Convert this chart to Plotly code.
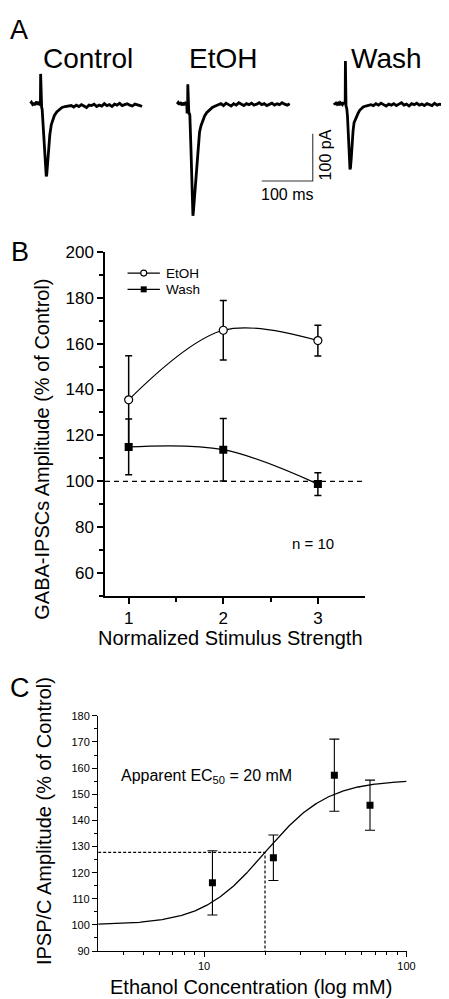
import numpy as np
import plotly.graph_objects as go

W, H = 449, 999
FONT = "Arial, 'Liberation Sans', sans-serif"

# ---------------- Panel A : example IPSC traces (time in ms, current in pA) ----------------
CONTROL_T = [-20, -18, -16, -14, -12, -10, -8, -6, -4, -2, -1, -0.4, 0, 0.6, 1.3, 2, 3, 5, 7, 9, 11,
             12, 13.5, 16, 18, 21, 24, 27, 32, 37, 42, 48, 54,
             60, 65, 70, 75, 80, 85, 90, 95, 100, 105, 110, 115, 120, 125, 130, 135, 140, 145,
             150, 155, 160, 165, 170, 175, 180, 185, 190, 195, 199]
CONTROL_I = [0, 3, -1, 2, -3, 1, 4, -2, 1, -1, 0, 2, 63, 20, -6, -8, -12, -45, -85, -125, -154,
             -150, -128, -90, -66, -44, -32, -25, -17, -12, -8, -6, -5,
             -4, -7, -3, -6, -2, -5, -8, -3, -4, -1, -6, -3, -5, 0, -4, -2, -6, -1, -3, 1,
             -4, -2, 0, -3, -5, -1, -2, -4, -6]

ETOH_T = [-21, -19, -17, -15, -13, -11, -9, -7, -5, -3, -2, -1.5, -1, -0.5, 0, 0.6, 1.2, 2, 3, 4, 6, 8, 10,
          11, 13, 15, 17, 19, 21, 23, 26, 29, 33, 37, 42, 48, 54,
          60, 65, 70, 75, 80, 85, 90, 95, 100, 105, 110, 115, 120, 125, 130, 135, 140, 145,
          150, 155, 160, 165, 170, 175, 180, 185, 190, 195, 200]
ETOH_I = [-1, 2, -2, 3, 0, -3, 2, -1, 1, -2, 3, -20, 2, -18, 41, -20, 0, -22, -20, -25, -90, -165, -237,
          -228, -200, -170, -135, -102, -75, -60, -46, -36, -26, -19, -13, -8, -5,
          -3, 0, -4, 1, -2, -5, 0, -3, 2, -1, -4, 0, -2, 1, -3, -1, 2, -2, 0,
          -4, -1, 1, -3, 0, -2, 2, -1, -3, 0]

WASH_T = [-22, -20, -18, -16, -14, -12, -10, -8, -6, -4, -2, -1, -0.4, 0, 0.5, 1.2, 2.7, 4, 6, 8, 9, 10,
          11.5, 13, 15, 17, 19, 22, 25, 28, 31, 35, 40, 46,
          50, 55, 60, 65, 70, 75, 80, 85, 90, 95, 100, 105, 110, 115, 120, 125, 130, 135, 140, 145,
          150, 155, 160, 165, 170, 175, 180, 185, 190, 195]
WASH_I = [2, -2, 3, -1, 1, -3, 2, 0, -2, 3, -1, 1, 0, 90, 25, -5, -10, -25, -70, -118, -139, -135,
          -115, -85, -58, -40, -34, -27, -20, -14, -10, -7, -5, -3,
          -2, -4, 0, -3, 1, -2, -5, -1, -3, 0, -4, -1, 2, -3, -1, -5, 0, -2, 1, -3,
          -1, -4, 0, -2, -4, 1, -3, -1, -2, -4]

TRACE_NAMES = ["Control", "EtOH", "Wash"]
SCALE_MS = 100
SCALE_PA = 100

# ---------------- Panel B : amplitude vs stimulus strength ----------------
STIM = [1, 2, 3]
ETOH_B = [135.5, 165.8, 161.3]
ETOH_B_ERR = [19.2, 13.0, 6.7]
WASH_B = [115.0, 113.8, 98.8]
WASH_B_ERR = [12.1, 13.6, 5.0]
B_XTICKS = [1, 2, 3]
B_YTICKS = [60, 80, 100, 120, 140, 160, 180, 200]
CONTROL_LEVEL = 100
LEGEND_NAMES = ["EtOH", "Wash"]

# ---------------- Panel C : concentration-response ----------------
ETOH_CONC = [11, 22, 44, 66]
IPSP_C = [116.1, 125.7, 157.3, 145.8]
IPSP_C_ERR = [12.3, 8.7, 13.8, 9.6]
EC50 = 20
FIT_BOTTOM = 100
FIT_TOP = 155.5
FIT_HILL = 2.8
C_XTICKS = [10, 100]
C_XMINOR = [4, 5, 6, 7, 8, 9, 20, 30, 40, 50, 60, 70, 80, 90]
C_YTICKS = [90, 100, 110, 120, 130, 140, 150, 160, 170, 180]


def px_x(p):
    return p / W


def px_y(p):
    return 1 - p / H


fig = go.Figure()

# ---- Panel A traces ----
MS_PER_PX = 1 / 0.52
PA_PER_PX = 1 / 0.48
offsets = {"Control": 33.3 * MS_PER_PX, "EtOH": 183.5 * MS_PER_PX, "Wash": 344.3 * MS_PER_PX}
for name, t, cur in [("Control", CONTROL_T, CONTROL_I), ("EtOH", ETOH_T, ETOH_I), ("Wash", WASH_T, WASH_I)]:
    fig.add_trace(go.Scatter(x=np.array(t) + offsets[name], y=cur, mode="lines",
                             line=dict(color="black", width=2.8), xaxis="x3", yaxis="y3",
                             showlegend=False, hoverinfo="skip"))

# scale bars
sb_x1 = 311 * MS_PER_PX
sb_y0 = -(166.5 - 88) * PA_PER_PX
fig.add_trace(go.Scatter(x=[sb_x1 - SCALE_MS, sb_x1, sb_x1], y=[sb_y0, sb_y0, sb_y0 + SCALE_PA],
                         mode="lines", line=dict(color="#333333", width=1.1),
                         xaxis="x3", yaxis="y3", showlegend=False, hoverinfo="skip"))

# ---- Panel B ----
fig.add_trace(go.Scatter(x=STIM, y=ETOH_B, name="EtOH", mode="lines+markers",
                         line=dict(color="black", width=1.2, shape="spline"),
                         marker=dict(symbol="circle", size=8, color="white",
                                     line=dict(color="black", width=1.2)),
                         error_y=dict(type="data", array=ETOH_B_ERR, color="black", thickness=1.5, width=3.5),
                         xaxis="x", yaxis="y", showlegend=False))
fig.add_trace(go.Scatter(x=STIM, y=WASH_B, name="Wash", mode="lines+markers",
                         line=dict(color="black", width=1.2, shape="spline"),
                         marker=dict(symbol="square", size=8, color="black"),
                         error_y=dict(type="data", array=WASH_B_ERR, color="black", thickness=1.5, width=3.5),
                         xaxis="x", yaxis="y", showlegend=False))

# legend glyphs (drawn on a hidden pixel-space axis)
leg_rows = [(260, dict(symbol="circle", size=6, color="white", line=dict(color="black", width=1.1))),
            (276.5, dict(symbol="square", size=6, color="black"))]
for (ly, mk) in leg_rows:
    fig.add_trace(go.Scatter(x=[122, 155], y=[ly, ly], mode="lines", line=dict(color="black", width=1.1),
                             xaxis="x4", yaxis="y4", showlegend=False, hoverinfo="skip"))
    fig.add_trace(go.Scatter(x=[138.5], y=[ly], mode="markers", marker=mk,
                             xaxis="x4", yaxis="y4", showlegend=False, hoverinfo="skip"))

# ---- Panel C ----
fit_x = np.logspace(np.log10(3), 2, 300)
fit_y = FIT_BOTTOM + (FIT_TOP - FIT_BOTTOM) / (1 + (EC50 / fit_x) ** FIT_HILL)
half = (FIT_BOTTOM + FIT_TOP) / 2
fig.add_trace(go.Scatter(x=[3, EC50, EC50], y=[half, half, 90], mode="lines",
                         line=dict(color="black", width=1.2, dash="3px,2px"),
                         xaxis="x2", yaxis="y2", showlegend=False, hoverinfo="skip"))
fig.add_trace(go.Scatter(x=fit_x, y=fit_y, mode="lines", line=dict(color="black", width=1.3),
                         xaxis="x2", yaxis="y2", showlegend=False, hoverinfo="skip"))
fig.add_trace(go.Scatter(x=ETOH_CONC, y=IPSP_C, mode="markers",
                         marker=dict(symbol="square", size=7, color="black"),
                         error_y=dict(type="data", array=IPSP_C_ERR, color="black", thickness=1.1, width=5),
                         xaxis="x2", yaxis="y2", showlegend=False))

axis_common = dict(showline=True, linecolor="black", showgrid=False, zeroline=False,
                   ticks="outside", tickcolor="black", fixedrange=True)

fig.update_layout(
    width=W, height=H, autosize=False,
    margin=dict(l=0, r=0, t=0, b=0),
    paper_bgcolor="white", plot_bgcolor="rgba(0,0,0,0)",
    font=dict(family=FONT, color="black"),
    showlegend=False,
    xaxis=dict(domain=[px_x(99), px_x(364.5)], range=[0.75, 3.5], anchor="y",
               tickvals=B_XTICKS, ticklen=6, tickwidth=1.5, linewidth=1.5,
               tickfont=dict(size=17),
               minor=dict(tickvals=[1.5, 2.5], ticks="outside", ticklen=4, tickwidth=1.5, tickcolor="black"),
               **axis_common),
    yaxis=dict(domain=[px_y(588), px_y(238.3)], range=[50, 200], anchor="x",
               tickvals=B_YTICKS, ticklen=6, tickwidth=1.5, linewidth=1.5,
               tickfont=dict(size=17),
               minor=dict(dtick=10, tick0=50, ticks="outside", ticklen=4, tickwidth=1.5, tickcolor="black"),
               **axis_common),
    xaxis2=dict(domain=[px_x(92), px_x(406.7)], type="log", range=[np.log10(3), 2], anchor="y2",
                tickvals=C_XTICKS, ticktext=[str(v) for v in C_XTICKS], ticklen=5, tickwidth=1.3, linewidth=1.4,
                tickfont=dict(size=11),
                minor=dict(tickvals=C_XMINOR, ticks="outside", ticklen=3, tickwidth=1.2, tickcolor="black"),
                **axis_common),
    yaxis2=dict(domain=[px_y(948.3), px_y(709.5)], range=[90, 180], anchor="x2",
                tickvals=C_YTICKS, ticklen=5, tickwidth=1.3, linewidth=1.4,
                tickfont=dict(size=11),
                minor=dict(dtick=5, tick0=90, ticks="outside", ticklen=3, tickwidth=1.2, tickcolor="black"),
                **axis_common),
    xaxis3=dict(domain=[0, 1], range=[0, W * MS_PER_PX], visible=False, anchor="y3", fixedrange=True),
    yaxis3=dict(domain=[px_y(220), 1], range=[-(220 - 88) * PA_PER_PX, 88 * PA_PER_PX],
                visible=False, anchor="x3", fixedrange=True),
    xaxis4=dict(domain=[0, 1], range=[0, W], visible=False, anchor="y4", fixedrange=True),
    yaxis4=dict(domain=[0, 1], range=[H, 0], visible=False, anchor="x4", fixedrange=True),
    shapes=[dict(type="line", xref="x domain", yref="y", x0=0, x1=1, y0=CONTROL_LEVEL, y1=CONTROL_LEVEL,
                 line=dict(color="black", width=1.4, dash="5px,4px"))],
)

ann = []


def add_text(text, x, y, size, angle=0, xanchor="center"):
    ann.append(dict(text=text, x=px_x(x), y=px_y(y), xref="paper", yref="paper", showarrow=False,
                    font=dict(size=size, family=FONT, color="black"), textangle=angle,
                    xanchor=xanchor, yanchor="middle"))


# panel labels
add_text("A", 11, 13, 27)
add_text("B", 12, 239, 27)
add_text("C", 12, 681, 27)
# panel A titles
add_text("Control", 82, 42, 28)
add_text("EtOH", 219, 42, 28)
add_text("Wash", 386.5, 42, 28)
add_text("100 ms", 285, 180, 16)
add_text("100 pA", 324, 140, 16, angle=-90)
# panel B
add_text("GABA-IPSCs Amplitude (% of Control)", 35, 439, 20, angle=-90)
add_text("Normalized Stimulus Strength", 227, 630, 20)
add_text("n = 10", 311.5, 535, 15)
add_text(LEGEND_NAMES[0], 159, 260, 13.5, xanchor="left")
add_text(LEGEND_NAMES[1], 159, 276.5, 13.5, xanchor="left")
# panel C
add_text("IPSP/C Amplitude (% of Control)", 36, 816, 20, angle=-90)
add_text("Ethanol Concentration (log mM)", 248, 985, 20)
add_text("Apparent EC<sub>50</sub> = 20 mM", 203, 771, 16)

fig.update_layout(annotations=ann)

fig.write_html("out.html", config={"displayModeBar": False})
